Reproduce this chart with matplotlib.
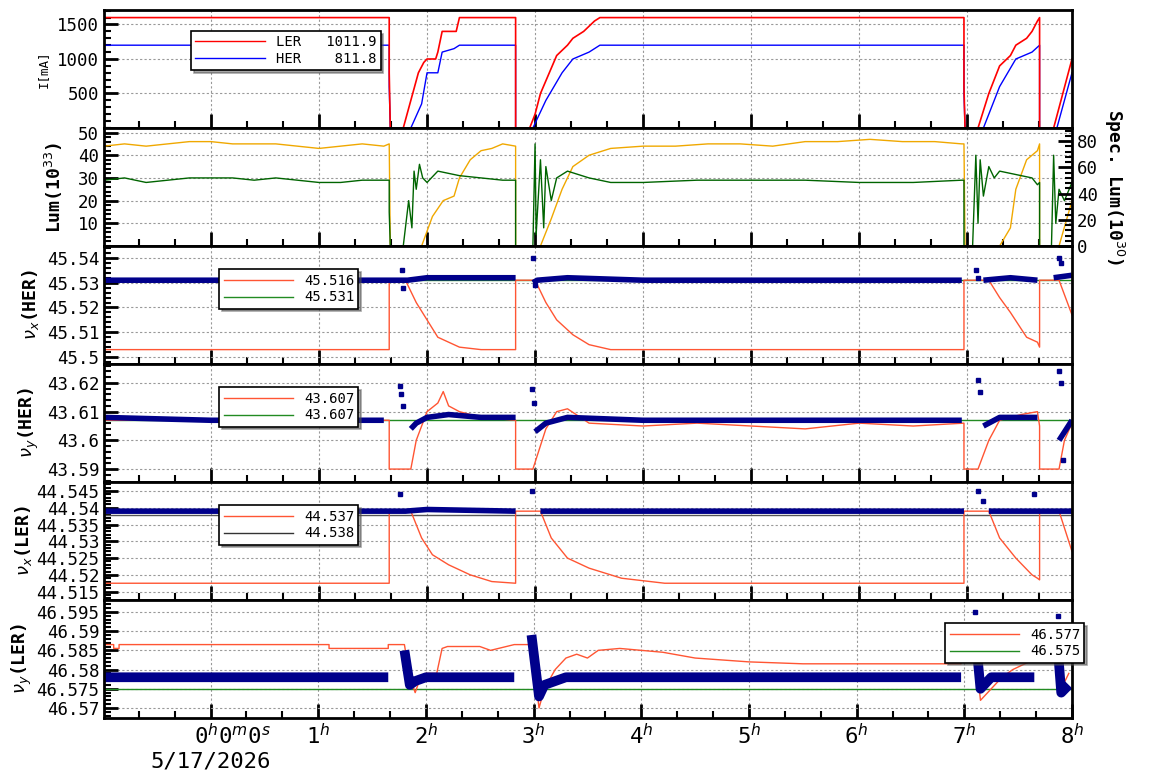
import matplotlib
matplotlib.use("Agg")
import matplotlib.pyplot as plt
from matplotlib.ticker import MultipleLocator, FixedLocator, FuncFormatter

plt.rcParams['font.family'] = ['DejaVu Sans Mono']

XMIN, XMAX = -0.99, 7.97

# ---- Panel 1: currents [mA]
ler_t = [-0.99,1.65,1.65,1.66,1.78,1.85,1.92,1.97,2.0,2.08,2.1,2.14,2.27,2.3,2.82,2.82,2.95,3.0,3.05,3.2,3.3,3.35,3.45,3.55,3.6,6.97,6.97,6.98,7.1,7.2,7.3,7.4,7.45,7.55,7.6,7.65,7.67,7.67,7.8,7.97]
ler_i = [1600,1600,800,0,0,400,800,950,1000,1000,1100,1400,1400,1600,1600,0,0,200,500,1050,1200,1300,1400,1550,1600,1600,600,0,0,500,900,1050,1200,1300,1400,1550,1600,0,0,1000]
her_t = [-0.99,1.65,1.65,1.66,1.85,1.95,2.0,2.1,2.14,2.25,2.3,2.82,2.82,2.98,3.1,3.25,3.35,3.5,3.6,6.97,6.97,6.98,7.15,7.3,7.45,7.6,7.67,7.67,7.83,7.97]
her_i = [1200,1200,600,0,0,350,800,800,1100,1150,1200,1200,0,0,400,800,1000,1100,1200,1200,500,0,0,600,1000,1100,1200,0,0,800]

# ---- Panel 2: luminosity
lum_t = [-0.99,-0.8,-0.6,-0.4,-0.2,0.0,0.2,0.4,0.6,0.8,1.0,1.2,1.4,1.6,1.65,1.66,1.95,2.05,2.15,2.25,2.3,2.4,2.5,2.6,2.7,2.82,2.82,3.05,3.15,3.25,3.35,3.5,3.7,4.0,4.3,4.6,4.9,5.2,5.5,5.8,6.1,6.4,6.7,6.95,6.97,6.98,7.3,7.4,7.45,7.55,7.65,7.67,7.67,7.85,7.97]
lum_v = [44,45,44,45,46,46,45,45,45,44,43,44,45,44,45,0,0,13,20,22,30,38,42,43,45,44,0,0,12,25,35,40,43,44,44,45,45,44,46,46,47,46,46,45,45,0,0,8,25,38,42,45,0,0,20]
slum_t = [-0.99,-0.8,-0.6,-0.4,-0.2,0.0,0.2,0.4,0.6,0.8,1.0,1.2,1.4,1.6,1.65,1.65,1.66,1.78,1.83,1.86,1.88,1.9,1.93,1.96,2.0,2.1,2.3,2.5,2.7,2.82,2.82,2.98,3.0,3.01,3.05,3.08,3.1,3.15,3.2,3.3,3.5,3.7,4.0,4.5,5.0,5.5,6.0,6.5,6.95,6.97,6.97,7.05,7.08,7.1,7.12,7.15,7.2,7.25,7.3,7.4,7.5,7.6,7.65,7.67,7.67,7.78,7.8,7.82,7.85,7.9,7.97]
slum_v = [29,30,28,29,30,30,30,29,30,29,28,28,29,29,29,15,0,0,20,8,33,25,36,30,28,33,31,30,29,29,0,0,45,5,38,8,35,20,30,33,30,28,28,29,29,29,28,28,29,29,0,0,40,10,38,22,35,30,33,32,31,30,27,28,0,0,40,10,25,20,28]

# ---- Panel 3: nu_x(HER)
nxh_t = [-0.99,1.65,1.65,1.8,1.9,2.0,2.1,2.3,2.5,2.82,2.82,3.0,3.1,3.2,3.35,3.5,3.7,6.97,6.97,7.2,7.3,7.4,7.55,7.65,7.67,7.67,7.85,7.97]
nxh_r = [45.503,45.503,45.531,45.531,45.522,45.515,45.508,45.504,45.503,45.503,45.531,45.531,45.522,45.515,45.509,45.505,45.503,45.503,45.531,45.531,45.524,45.518,45.508,45.506,45.504,45.531,45.531,45.517]
nxh_bt = [-0.99,1.6,1.65,1.75,1.82,2.0,2.4,2.82,2.82,2.98,3.02,3.3,4.0,5.0,6.0,6.95,7.05,7.15,7.4,7.65,7.67,7.8,7.97]
nxh_bv = [45.531,45.531,45.531,45.531,45.531,45.532,45.532,45.532,None,45.530,45.531,45.532,45.531,45.531,45.531,45.531,None,45.531,45.532,45.531,None,45.532,45.533]
nxh_ot = [1.77,1.78,2.98,3.0,7.08,7.1,7.85,7.87]
nxh_ov = [45.535,45.528,45.540,45.529,45.535,45.532,45.540,45.538]
nxh_green = 45.531

# ---- Panel 4: nu_y(HER)
nyh_t = [-0.99,1.65,1.65,1.85,1.9,2.0,2.1,2.15,2.2,2.3,2.5,2.82,2.82,2.98,3.1,3.2,3.3,3.5,4.0,4.5,5.0,5.5,6.0,6.5,6.97,6.97,7.1,7.2,7.3,7.5,7.65,7.67,7.67,7.85,7.9,7.97]
nyh_r = [43.607,43.607,43.590,43.590,43.600,43.610,43.613,43.617,43.612,43.610,43.608,43.607,43.590,43.590,43.604,43.610,43.611,43.606,43.605,43.606,43.605,43.604,43.606,43.605,43.606,43.590,43.590,43.600,43.607,43.609,43.610,43.605,43.590,43.590,43.600,43.606]
nyh_bt = [-0.99,0.0,1.0,1.6,1.65,1.85,1.9,2.0,2.2,2.5,2.82,2.82,3.0,3.1,3.3,4.0,5.0,6.0,6.95,6.97,7.15,7.3,7.6,7.65,7.67,7.85,7.97]
nyh_bv = [43.608,43.607,43.607,43.607,None,43.604,43.606,43.608,43.609,43.608,43.608,None,43.603,43.606,43.608,43.607,43.607,43.607,43.607,None,43.605,43.608,43.608,43.608,None,43.600,43.607]
nyh_ot = [1.75,1.76,1.78,2.97,2.99,7.1,7.12,7.85,7.87,7.89]
nyh_ov = [43.619,43.616,43.612,43.618,43.613,43.621,43.617,43.624,43.620,43.593]
nyh_green = 43.607

# ---- Panel 5: nu_x(LER)
nxl_t = [-0.99,1.65,1.65,1.85,1.95,2.05,2.2,2.4,2.6,2.82,2.82,3.05,3.15,3.3,3.5,3.8,4.2,6.97,6.97,7.2,7.3,7.45,7.6,7.65,7.67,7.67,7.85,7.97]
nxl_r = [44.5175,44.5175,44.539,44.539,44.531,44.526,44.523,44.520,44.518,44.5175,44.539,44.539,44.531,44.525,44.522,44.519,44.5175,44.5175,44.539,44.539,44.531,44.525,44.520,44.519,44.5185,44.539,44.539,44.527]
nxl_bt = [-0.99,1.65,1.8,2.0,2.82,2.95,3.05,4.0,5.0,6.97,7.05,7.2,7.65,7.8,7.97]
nxl_bv = [44.539,44.539,44.539,44.5395,44.539,None,44.539,44.539,44.539,44.539,None,44.539,44.539,44.539,44.539]
nxl_ot = [1.75,2.97,7.1,7.15,7.62]
nxl_ov = [44.544,44.545,44.545,44.542,44.544]
nxl_gray = 44.538

# ---- Panel 6: nu_y(LER)
nyl_t = [-0.99,-0.9,-0.9,-0.85,-0.85,1.1,1.1,1.65,1.65,1.8,1.85,1.9,1.95,2.0,2.1,2.15,2.2,2.5,2.6,2.82,2.82,2.98,3.05,3.1,3.2,3.3,3.4,3.5,3.6,3.8,4.2,4.5,5.0,5.5,6.0,6.97,6.97,7.1,7.15,7.25,7.35,7.45,7.6,7.65,7.67,7.67,7.85,7.9,7.97]
nyl_r = [46.5865,46.5865,46.5855,46.5855,46.5865,46.5865,46.5855,46.5855,46.5865,46.5865,46.578,46.574,46.578,46.579,46.579,46.5855,46.586,46.586,46.585,46.5865,46.5865,46.5865,46.570,46.575,46.580,46.583,46.584,46.583,46.585,46.5855,46.5845,46.583,46.582,46.5815,46.5815,46.5815,46.5865,46.585,46.572,46.575,46.578,46.580,46.582,46.583,46.582,46.5865,46.5865,46.575,46.579]
nyl_bt = [-0.99,0.0,1.0,1.65,1.65,1.8,1.85,1.9,2.0,2.5,2.82,2.82,2.98,3.05,3.1,3.3,4.0,5.0,6.0,6.97,6.97,7.1,7.15,7.25,7.6,7.65,7.67,7.85,7.9,7.97]
nyl_bv = [46.578,46.578,46.578,46.578,None,46.585,46.576,46.577,46.578,46.578,46.578,None,46.589,46.573,46.576,46.578,46.578,46.578,46.578,46.578,None,46.590,46.575,46.578,46.578,46.578,None,46.592,46.574,46.576]
nyl_green = 46.575

LEGENDS = [
    (["LER   1011.9", "HER    811.8"], ["#ff0000", "#0000ff"]),
    (["45.516", "45.531"], ["#ff5533", "#228b22"]),
    (["43.607", "43.607"], ["#ff5533", "#228b22"]),
    (["44.537", "44.538"], ["#ff5533", "#333333"]),
    (["46.577", "46.575"], ["#ff5533", "#228b22"]),
]

fig = plt.figure(figsize=(11.54, 7.82), dpi=100)
L, R = 104/1154, 1072/1154
edges = [10, 128, 246, 364, 482, 600, 718]
axes = []
for i in range(6):
    top, bot = edges[i], edges[i+1]
    ax = fig.add_axes([L, 1-bot/782, R-L, (bot-top)/782])
    axes.append(ax)

NAVY = "#00008b"
ORANGE = "#f0a800"
GREEN = "#006400"
gfmt = FuncFormatter(lambda v, p: f"{v:g}")

def style(ax, ylim, yticks, ylabel, bold=True, fs=13, lx=-0.058):
    ax.set_xlim(XMIN, XMAX)
    ax.set_ylim(*ylim)
    ax.xaxis.set_major_locator(MultipleLocator(1))
    ax.xaxis.set_minor_locator(MultipleLocator(1/3))
    ax.yaxis.set_major_locator(FixedLocator(yticks))
    ax.yaxis.set_major_formatter(gfmt)
    ax.tick_params(which='major', direction='in', length=10, width=2, labelsize=12.5)
    ax.tick_params(which='minor', direction='in', length=5, width=1.5)
    ax.grid(True, which='major', linestyle=(0, (2, 2)), color='#999999', lw=0.8)
    for s in ax.spines.values():
        s.set_linewidth(2)
    ax.set_ylabel(ylabel, fontsize=fs, fontweight='bold' if bold else 'normal')
    ax.yaxis.set_label_coords(lx, 0.5)
    ax.tick_params(labelbottom=False)

def legend(ax, idx, loc_bbox):
    labels, cols = LEGENDS[idx]
    hs = [plt.Line2D([], [], color=c, lw=1) for c in cols]
    lg = ax.legend(hs, labels, loc='upper left', bbox_to_anchor=loc_bbox, fontsize=10,
                   frameon=True, fancybox=False, shadow=True, edgecolor='black',
                   handlelength=5, borderpad=0.3, labelspacing=0.2)
    lg.get_frame().set_linewidth(1.2)

# panel 1
ax = axes[0]
ax.plot(her_t, her_i, color='#0000ff', lw=1)
ax.plot(ler_t, ler_i, color='#ff0000', lw=1.2)
style(ax, (0, 1710), [500, 1000, 1500], "I[mA]", bold=False, fs=9, lx=-0.056)
ax.yaxis.set_minor_locator(MultipleLocator(100))
legend(ax, 0, (0.083, 0.88))

# panel 2
ax = axes[1]
ax.plot(lum_t, lum_v, color=ORANGE, lw=1)
ax.plot(slum_t, slum_v, color=GREEN, lw=1)
style(ax, (0, 52), [10, 20, 30, 40, 50], "Lum(10$^{33}$)", lx=-0.04)
ax.yaxis.set_minor_locator(MultipleLocator(2))
ax2 = ax.twinx()
ax2.set_ylim(0, 90)
ax2.yaxis.set_major_locator(FixedLocator([0, 20, 40, 60, 80]))
ax2.yaxis.set_minor_locator(MultipleLocator(4))
ax2.tick_params(which='major', direction='in', length=10, width=2, labelsize=12.5)
ax2.tick_params(which='minor', direction='in', length=5, width=1.5)
ax2.set_ylabel("Spec. Lum(10$^{30}$)", fontsize=13, fontweight='bold', rotation=270, labelpad=20)

def tune_panel(ax, rt, rv, bt, bv, ot, ov, hval, hcol, ylim, yticks, minor, ylabel, lidx, lbbox, lx, blw=4):
    ax.axhline(hval, color=hcol, lw=1)
    ax.plot(rt, rv, color='#ff5533', lw=1)
    ax.plot(bt, bv, color=NAVY, lw=blw, solid_capstyle='butt')
    ax.plot(ot, ov, 's', color=NAVY, ms=3)
    style(ax, ylim, yticks, ylabel, lx=lx)
    ax.yaxis.set_minor_locator(MultipleLocator(minor))
    legend(ax, lidx, lbbox)

tune_panel(axes[2], nxh_t, nxh_r, nxh_bt, nxh_bv, nxh_ot, nxh_ov, nxh_green, '#228b22',
           (45.4972, 45.5448), [45.5, 45.51, 45.52, 45.53, 45.54], 0.002, r"$\nu_x$(HER)", 1, (0.112, 0.86), -0.065)
tune_panel(axes[3], nyh_t, nyh_r, nyh_bt, nyh_bv, nyh_ot, nyh_ov, nyh_green, '#228b22',
           (43.5855, 43.6266), [43.59, 43.6, 43.61, 43.62], 0.002, r"$\nu_y$(HER)", 2, (0.112, 0.86), -0.065)
tune_panel(axes[4], nxl_t, nxl_r, nxl_bt, nxl_bv, nxl_ot, nxl_ov, nxl_gray, '#555555',
           (44.5125, 44.5477), [44.515, 44.52, 44.525, 44.53, 44.535, 44.54, 44.545], 0.001, r"$\nu_x$(LER)", 3, (0.112, 0.86), -0.072)
tune_panel(axes[5], nyl_t, nyl_r, nyl_bt, nyl_bv, [7.1, 7.87], [46.595, 46.594], nyl_green, '#228b22',
           (46.5674, 46.5981), [46.57, 46.575, 46.58, 46.585, 46.59, 46.595], 0.001, r"$\nu_y$(LER)", 4, (0.862, 0.86), -0.072, blw=7)

ax = axes[5]
ax.tick_params(axis='x', labelbottom=True, labelsize=16)
ax.set_xticks(range(0, 9))
ax.set_xticklabels(["0$^h$0$^m$0$^s$\n5/17/2026"] + [f"{h}$^h$" for h in range(1, 9)], fontsize=16)
lbl = ax.get_xticklabels()[0]
lbl.set_horizontalalignment('center')
lbl.set_multialignment('right')

fig.savefig("out.png", dpi=100)
